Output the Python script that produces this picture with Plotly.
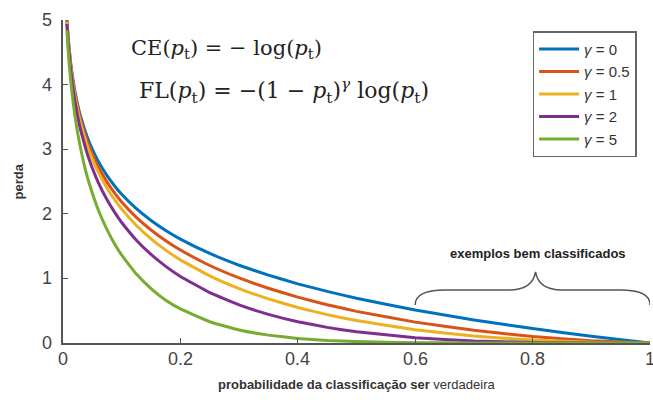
import plotly.graph_objects as go

# probability values (x) and loss values
p_vals = [0.0067, 0.008, 0.01, 0.013, 0.016, 0.02, 0.025, 0.03, 0.04, 0.05, 0.06, 0.075,
          0.09, 0.1, 0.125, 0.15, 0.175, 0.2, 0.25, 0.3, 0.35, 0.4, 0.45, 0.5, 0.6, 0.7,
          0.8, 0.9, 1.0]
loss_g0 = [5.006, 4.828, 4.605, 4.343, 4.135, 3.912, 3.689, 3.507, 3.219, 2.996, 2.813,
           2.590, 2.408, 2.303, 2.079, 1.897, 1.743, 1.609, 1.386, 1.204, 1.050, 0.916,
           0.799, 0.693, 0.511, 0.357, 0.223, 0.105, 0.0]
loss_g05 = [4.989, 4.809, 4.582, 4.315, 4.102, 3.873, 3.643, 3.454, 3.153, 2.920, 2.727,
            2.491, 2.297, 2.184, 1.945, 1.749, 1.583, 1.439, 1.200, 1.007, 0.847, 0.710,
            0.593, 0.490, 0.323, 0.196, 0.100, 0.033, 0.0]
loss_g1 = [4.972, 4.789, 4.559, 4.287, 4.069, 3.834, 3.597, 3.402, 3.090, 2.846, 2.644,
           2.396, 2.191, 2.072, 1.819, 1.612, 1.438, 1.287, 1.040, 0.843, 0.683, 0.550,
           0.439, 0.347, 0.204, 0.107, 0.045, 0.011, 0.0]
loss_g2 = [4.939, 4.751, 4.513, 4.232, 4.004, 3.757, 3.507, 3.300, 2.966, 2.704, 2.486,
           2.216, 1.994, 1.865, 1.592, 1.371, 1.186, 1.030, 0.780, 0.590, 0.444, 0.330,
           0.242, 0.173, 0.082, 0.032, 0.009, 0.001, 0.0]
loss_g5 = [4.840, 4.638, 4.379, 4.071, 3.823, 3.536, 3.251, 3.012, 2.617, 2.318, 2.063,
           1.754, 1.500, 1.360, 1.067, 0.842, 0.661, 0.527, 0.329, 0.202, 0.122, 0.071,
           0.040, 0.022, 0.005, 0.001, 0.0, 0.0, 0.0]

series_names = ["<i>γ</i> = 0", "<i>γ</i> = 0.5", "<i>γ</i> = 1", "<i>γ</i> = 2", "<i>γ</i> = 5"]
series_values = [loss_g0, loss_g05, loss_g1, loss_g2, loss_g5]
colors = ["#0072BD", "#D95319", "#EDB120", "#7E2F8E", "#77AC30"]

x_ticks = [0, 0.2, 0.4, 0.6, 0.8, 1]
x_tick_labels = ["0", "0.2", "0.4", "0.6", "0.8", "1"]
y_ticks = [0, 1, 2, 3, 4, 5]
y_tick_labels = ["0", "1", "2", "3", "4", "5"]

fig = go.Figure()
for name, vals, col in zip(series_names, series_values, colors):
    fig.add_trace(go.Scatter(x=p_vals, y=vals, mode="lines", name=name,
                             line=dict(color=col, width=3, shape="spline", smoothing=0.3)))

font_sans = "Liberation Sans, Arial, sans-serif"
axis_col = "#555555"
tick_font = dict(size=18, color="#444444", family=font_sans)

fig.update_layout(
    width=653, height=403,
    margin=dict(l=63, r=3, t=20, b=60),
    paper_bgcolor="white", plot_bgcolor="white",
    font=dict(family=font_sans, color="#333333"),
    showlegend=True,
    legend=dict(x=0.8, y=0.965, xanchor="left", yanchor="top",
                bordercolor="#666666", borderwidth=1.5, bgcolor="white",
                font=dict(size=15, family=font_sans, color="#333333"),
                tracegroupgap=0, itemwidth=40),
    xaxis=dict(range=[0, 1], tickvals=x_ticks, showticklabels=False, automargin=False,
               showgrid=False, zeroline=False, showline=True, linecolor=axis_col,
               linewidth=1.5, ticks="inside", ticklen=5, tickcolor=axis_col),
    yaxis=dict(range=[0, 5], tickvals=y_ticks, showticklabels=False, showgrid=False,
               zeroline=False, automargin=False,
               showline=True, linecolor=axis_col, linewidth=1.5, ticks="inside",
               ticklen=5, tickcolor=axis_col),
)

# tick labels placed at the axis tick values
for v, t in zip(y_ticks, y_tick_labels):
    fig.add_annotation(xref="paper", yref="y", x=0, y=v, xanchor="right", yanchor="middle",
                       xshift=-9, showarrow=False, text=t, font=tick_font)
for v, t in zip(x_ticks, x_tick_labels):
    fig.add_annotation(xref="x", yref="paper", x=v, y=0, xanchor="center", yanchor="top",
                       yshift=-4, showarrow=False, text=t, font=tick_font)

serif = "DejaVu Serif, Liberation Serif, serif"
fig.add_annotation(xref="paper", yref="paper", x=0.113, y=0.91, xanchor="left",
                   yanchor="middle", showarrow=False,
                   text="CE(<i>p</i><sub>t</sub>) = − log(<i>p</i><sub>t</sub>)",
                   font=dict(family=serif, size=21, color="#222222"))
fig.add_annotation(xref="paper", yref="paper", x=0.126, y=0.78, xanchor="left",
                   yanchor="middle", showarrow=False,
                   text="FL(<i>p</i><sub>t</sub>) = −(1 − <i>p</i><sub>t</sub>)<sup><i>γ</i></sup> log(<i>p</i><sub>t</sub>)",
                   font=dict(family=serif, size=22, color="#222222"))

# axis titles
fig.add_annotation(xref="paper", yref="paper", x=-0.075, y=0.5, xanchor="center",
                   yanchor="middle", showarrow=False, textangle=-90,
                   text="<b>perda</b>", font=dict(size=13, color="#333333"))
fig.add_annotation(xref="paper", yref="paper", x=0.5, y=-0.13, xanchor="center",
                   yanchor="middle", showarrow=False,
                   text="<b>probabilidade da classificação ser</b> verdadeira",
                   font=dict(size=13, color="#333333"))

# brace annotation
fig.add_shape(type="path", xref="x", yref="y",
              path="M 0.6,0.59 Q 0.6,0.82 0.65,0.82 L 0.76,0.82 Q 0.80,0.82 0.805,1.10 "
                   "Q 0.81,0.82 0.85,0.82 L 0.95,0.82 Q 1.0,0.82 1.0,0.59",
              line=dict(color="#555555", width=1.5))
fig.add_annotation(xref="x", yref="y", x=0.81, y=1.39, showarrow=False,
                   text="<b>exemplos bem classificados</b>",
                   font=dict(size=13, color="#222222"))

fig.write_html("out.html", config={"displayModeBar": False},
               post_script="document.body.style.margin='0';")
